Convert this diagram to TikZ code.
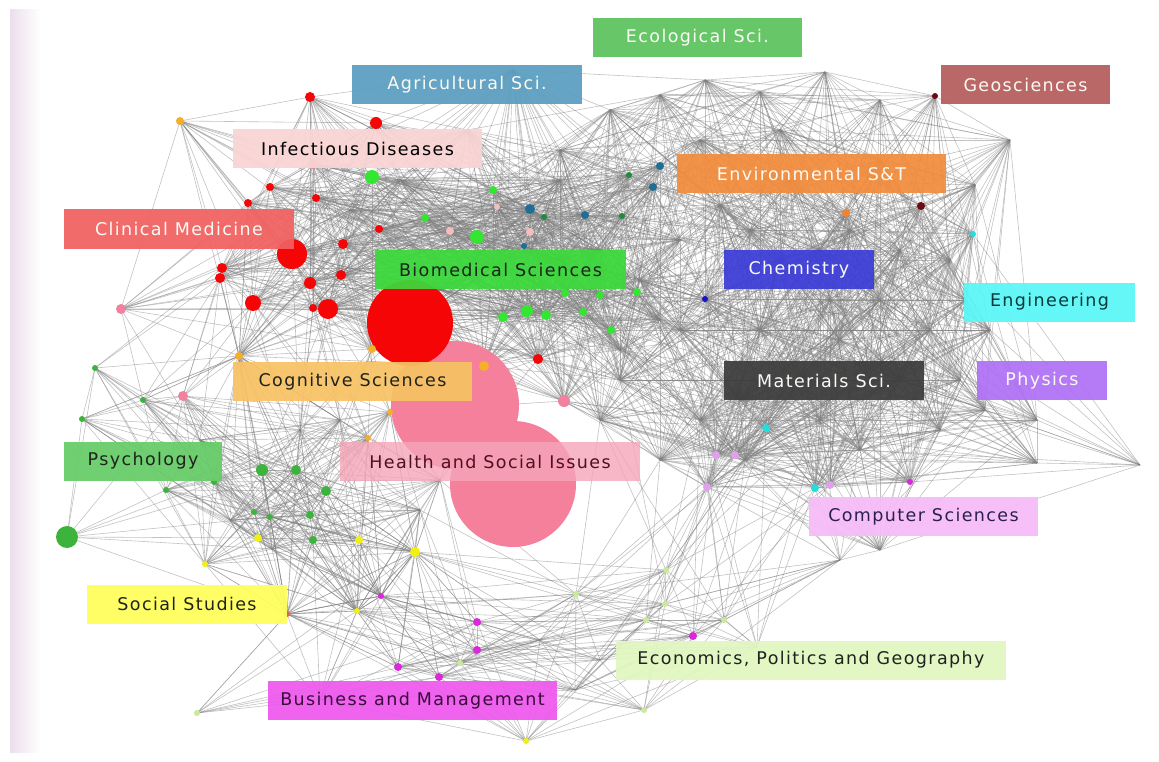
\documentclass[tikz,border=0pt]{standalone}
\usepackage{fontspec}
\setmainfont{DejaVu Sans}
\newfontfamily\lab{DejaVu Sans}[LetterSpace=8]
\definecolor{cRed}{RGB}{245,5,5}
\definecolor{cBgreen}{RGB}{50,230,50}
\definecolor{cPgreen}{RGB}{60,180,60}
\definecolor{cDgreen}{RGB}{30,140,60}
\definecolor{cTeal}{RGB}{30,110,150}
\definecolor{cLpink}{RGB}{245,190,190}
\definecolor{cPinkd}{RGB}{240,130,160}
\definecolor{cBigpink}{RGB}{245,128,155}
\definecolor{cAmber}{RGB}{245,175,40}
\definecolor{cOrng}{RGB}{240,130,50}
\definecolor{cDred}{RGB}{110,10,20}
\definecolor{cCyan}{RGB}{40,220,220}
\definecolor{cBlue}{RGB}{20,20,200}
\definecolor{cMag}{RGB}{220,40,220}
\definecolor{cLviolet}{RGB}{225,160,235}
\definecolor{cYell}{RGB}{240,240,20}
\definecolor{cLgreen}{RGB}{200,235,150}
\definecolor{cOrred}{RGB}{230,100,60}
\definecolor{cLav}{RGB}{236,222,236}
% label boxes
\definecolor{bEco}{RGB}{92,194,92}
\definecolor{bAgri}{RGB}{90,158,192}
\definecolor{bGeo}{RGB}{180,92,92}
\definecolor{bInf}{RGB}{250,212,212}
\definecolor{bEnv}{RGB}{242,140,60}
\definecolor{bClin}{RGB}{242,96,96}
\definecolor{bBio}{RGB}{58,218,58}
\definecolor{bChem}{RGB}{60,60,216}
\definecolor{bEng}{RGB}{90,247,247}
\definecolor{bCog}{RGB}{247,194,100}
\definecolor{bMat}{RGB}{60,60,60}
\definecolor{bPhys}{RGB}{176,112,245}
\definecolor{bPsy}{RGB}{102,204,102}
\definecolor{bHealth}{RGB}{245,165,184}
\definecolor{bComp}{RGB}{247,187,247}
\definecolor{bSoc}{RGB}{255,255,90}
\definecolor{bEcon}{RGB}{224,247,192}
\definecolor{bBus}{RGB}{238,88,238}
\definecolor{tDark}{RGB}{30,35,30}
\definecolor{tHealth}{RGB}{80,16,32}
\definecolor{tComp}{RGB}{42,32,80}
\definecolor{tBus}{RGB}{58,10,58}
\definecolor{tEng}{RGB}{10,58,58}
\definecolor{tLight}{RGB}{250,250,245}

\def\ClA{1/180/121,2/310/97,3/376/123,4/513/70,5/313/164,6/372/177,7/270/187,8/248/203,9/316/198,10/292/254,11/343/244,12/379/229,13/222/268,14/220/278,15/253/303,16/310/283,17/341/275,18/328/309,19/313/308,20/410/323,21/425/218,22/450/231,23/477/237,24/493/190,25/497/207,26/530/209,27/544/217,28/530/232,29/524/246,30/585/215,31/622/216,32/629/175,33/653/187,34/660/166,35/493/268,36/565/293,37/600/295,38/637/292,39/503/317,40/527/311,41/546/315,42/583/312,43/611/330,44/538/359,45/239/356,46/372/349,47/484/366,48/121/309,49/467/130,50/440/290,51/600/250,52/680/240,53/400/180,54/560/180,55/350/210,56/564/401,57/620/350,58/660/320,59/560/260}
\def\ClR{1/560/150,2/610/110,3/660/95,4/705/80,5/760/92,6/825/72,7/880/100,8/935/96,9/1010/140,10/975/185,11/973/234,12/966/300,13/990/330,14/985/410,15/1140/465,16/1037/463,17/1037/420,18/930/330,19/900/250,20/850/230,21/846/213,22/790/180,23/720/205,24/705/299,25/760/330,26/830/300,27/870/380,28/940/430,29/910/482,30/815/488,31/766/428,32/880/550,33/745/460,34/700/420,35/620/380,36/640/280,37/780/260,38/840/340,39/921/206,40/700/140,41/780/130,42/880/160,43/960/380,44/820/420,45/716/455,46/735/455,47/707/487,48/830/485,49/660/460,50/600/420,51/750/230,52/820/250,53/880/300,54/800/380,55/900/380,56/860/450,57/680/330,58/740/400,59/950/260}
\def\ClP{1/95/368,2/143/400,3/82/419,4/183/396,5/67/537,6/166/490,7/214/482,8/262/470,9/296/470,10/326/491,11/254/512,12/270/517,13/310/515,14/258/538,15/313/540,16/359/540,17/415/552,18/205/564,19/357/611,20/287/614,21/381/596,22/239/356,23/368/438,24/390/412,25/440/480,26/340/420,27/300/430,28/200/440,29/420/510,30/272/549,31/230/520}
\def\ClE{1/197/713,2/287/614,3/357/611,4/381/596,5/477/622,6/477/650,7/398/667,8/439/677,9/526/741,10/576/594,11/666/570,12/665/604,13/646/620,14/724/620,15/693/636,16/644/710,17/600/660,18/540/640,19/415/552,20/460/663,21/757/647,22/575/690,23/320/700,24/840/560}

\tikzset{
  lnk/.style={draw=gray, line width=0.6pt, opacity=0.48},
  lbl/.style={inner sep=0pt, minimum height=39, font=\lab\fontsize{17.5}{20}\selectfont, fill opacity=0.93, text opacity=1},
}

\begin{document}
\begin{tikzpicture}[x=1pt,y=-1pt]
\useasboundingbox (0,0) rectangle (1159,762);
\fill[white] (0,0) rectangle (1159,762);
\shade[left color=cLav, right color=white] (10,10) rectangle (40,752);

% coordinates
\foreach \i/\xa/\ya in \ClA {\coordinate (a\i) at (\xa,\ya);}
\foreach \i/\xa/\ya in \ClR {\coordinate (r\i) at (\xa,\ya);}
\foreach \i/\xa/\ya in \ClP {\coordinate (p\i) at (\xa,\ya);}
\foreach \i/\xa/\ya in \ClE {\coordinate (e\i) at (\xa,\ya);}
\coordinate (h1) at (455,405);
\coordinate (h2) at (513,484);

% edges within clusters
\foreach \i/\xa/\ya in \ClA {\foreach \j/\xb/\yb in \ClA {
  \pgfmathtruncatemacro\ok{(\j>\i)&&(veclen((\xb-\xa)/100,(\yb-\ya)/100)<2.8)&&(mod(\i*37+\j*53,10)<8)}
  \ifnum\ok=1 \draw[lnk] (a\i) -- (a\j); \fi}}
\foreach \i/\xa/\ya in \ClR {\foreach \j/\xb/\yb in \ClR {
  \pgfmathtruncatemacro\ok{(\j>\i)&&(veclen((\xb-\xa)/100,(\yb-\ya)/100)<3.2)&&(mod(\i*37+\j*53,10)<8)}
  \ifnum\ok=1 \draw[lnk] (r\i) -- (r\j); \fi}}
\foreach \i/\xa/\ya in \ClP {\foreach \j/\xb/\yb in \ClP {
  \pgfmathtruncatemacro\ok{(\j>\i)&&(veclen((\xb-\xa)/100,(\yb-\ya)/100)<2.4)&&(mod(\i*37+\j*53,10)<8)}
  \ifnum\ok=1 \draw[lnk] (p\i) -- (p\j); \fi}}
\foreach \i/\xa/\ya in \ClE {\foreach \j/\xb/\yb in \ClE {
  \pgfmathtruncatemacro\ok{(\j>\i)&&(veclen((\xb-\xa)/100,(\yb-\ya)/100)<3.0)&&(mod(\i*37+\j*53,10)<8)}
  \ifnum\ok=1 \draw[lnk] (e\i) -- (e\j); \fi}}
% edges across clusters
\foreach \i/\xa/\ya in \ClA {\foreach \j/\xb/\yb in \ClR {
  \pgfmathtruncatemacro\ok{(veclen((\xb-\xa)/100,(\yb-\ya)/100)<2.2)&&(mod(\i*37+\j*53,10)<6)}
  \ifnum\ok=1 \draw[lnk] (a\i) -- (r\j); \fi}}
\foreach \i/\xa/\ya in \ClA {\foreach \j/\xb/\yb in \ClP {
  \pgfmathtruncatemacro\ok{(veclen((\xb-\xa)/100,(\yb-\ya)/100)<1.8)&&(mod(\i*37+\j*53,10)<5)}
  \ifnum\ok=1 \draw[lnk] (a\i) -- (p\j); \fi}}
\foreach \i/\xa/\ya in \ClP {\foreach \j/\xb/\yb in \ClE {
  \pgfmathtruncatemacro\ok{(veclen((\xb-\xa)/100,(\yb-\ya)/100)<1.8)&&(mod(\i*37+\j*53,10)<6)}
  \ifnum\ok=1 \draw[lnk] (p\i) -- (e\j); \fi}}
\foreach \i/\xa/\ya in \ClR {\foreach \j/\xb/\yb in \ClE {
  \pgfmathtruncatemacro\ok{(veclen((\xb-\xa)/100,(\yb-\ya)/100)<2.4)&&(mod(\i*37+\j*53,10)<4)}
  \ifnum\ok=1 \draw[lnk] (r\i) -- (e\j); \fi}}

% dots
\fill[cBigpink] (h1) circle (64);
\fill[cBigpink] (h2) circle (63);
\foreach \n/\c/\r in {a1/cAmber/4,a2/cRed/5,a3/cRed/6,a5/cPinkd/5,a6/cBgreen/7,a7/cRed/4,a8/cRed/4,a9/cRed/4,a10/cRed/15,a11/cRed/5,a12/cRed/4,a13/cRed/5,a14/cRed/5,a15/cRed/8,a16/cRed/6,a17/cRed/5,a18/cRed/10,a19/cRed/4,a20/cRed/43,a21/cBgreen/4,a22/cLpink/4,a23/cBgreen/7,a24/cBgreen/4,a25/cLpink/3,a26/cTeal/5,a27/cDgreen/3,a28/cLpink/4,a29/cTeal/3,a30/cTeal/4,a31/cDgreen/3,a32/cDgreen/3,a33/cTeal/4,a34/cTeal/4,a35/cBgreen/4,a36/cBgreen/4,a37/cBgreen/4,a38/cBgreen/4,a39/cBgreen/5,a40/cBgreen/6,a41/cBgreen/5,a42/cBgreen/4,a43/cBgreen/4,a44/cRed/5,a45/cAmber/4,a46/cAmber/4,a47/cAmber/5,a48/cPinkd/5,a56/cPinkd/6,
  r8/cDred/3,r21/cOrng/4,r39/cDred/4,r11/cCyan/3,r24/cBlue/3,r31/cCyan/4,r30/cCyan/4,r29/cMag/3,r45/cLviolet/4,r46/cLviolet/4,r47/cLviolet/4,r48/cLviolet/4,
  p1/cPgreen/3,p2/cPgreen/3,p3/cPgreen/3,p4/cPinkd/5,p5/cPgreen/11,p6/cPgreen/3,p7/cPgreen/3,p8/cPgreen/6,p9/cPgreen/5,p10/cPgreen/5,p11/cPgreen/3,p12/cPgreen/3,p13/cPgreen/4,p14/cYell/4,p15/cPgreen/4,p16/cYell/4,p17/cYell/5,p18/cYell/3,p19/cYell/3,p20/cOrred/3,p21/cMag/3,p23/cAmber/3,p24/cAmber/3,
  e1/cLgreen/3,e5/cMag/4,e6/cMag/4,e7/cMag/4,e8/cMag/4,e9/cYell/3,e10/cLgreen/3,e11/cLgreen/3,e12/cLgreen/3,e13/cLgreen/3,e14/cLgreen/3,e15/cMag/4,e16/cLgreen/3,e20/cLgreen/3}
  {\fill[\c] (\n) circle (\r);}

% labels
\node[lbl, fill=bEco, text=tLight, minimum width=209] (eco) at (697.5,37.5) {Ecological Sci.};
\node[lbl, fill=bAgri, text=tLight, minimum width=230] (agri) at (467,85) {Agricultural Sci.};
\node[lbl, fill=bGeo, text=tLight, minimum width=169] (geo) at (1025.5,85) {Geosciences};
\node[lbl, fill=bInf, text=black, minimum width=249] (inf) at (357.5,149) {Infectious Diseases};
\node[lbl, fill=bEnv, text=tLight, minimum width=269] (env) at (811.5,173.5) {Environmental S\&T};
\node[lbl, fill=bClin, text=tLight, minimum width=230] (clin) at (179,229) {Clinical Medicine};
\node[lbl, fill=bBio, text=tDark, minimum width=251] (bio) at (500.5,269.5) {Biomedical Sciences};
\node[lbl, fill=bChem, text=tLight, minimum width=150] (chem) at (799,269.5) {Chemistry};
\node[lbl, fill=bEng, text=tEng, minimum width=171] (eng) at (1049.5,302) {Engineering};
\node[lbl, fill=bCog, text=tDark, minimum width=239] (cog) at (352.5,381.5) {Cognitive Sciences};
\node[lbl, fill=bMat, text=tLight, minimum width=200] (mat) at (824,380.5) {Materials Sci.};
\node[lbl, fill=bPhys, text=tLight, minimum width=130] (phys) at (1042,380.5) {Physics};
\node[lbl, fill=bPsy, text=tDark, minimum width=158] (psy) at (143,461) {Psychology};
\node[lbl, fill=bHealth, text=tHealth, minimum width=300, fill opacity=0.8] (health) at (490,461.5) {Health and Social Issues};
\node[lbl, fill=bComp, text=tComp, minimum width=229] (comp) at (923.5,516.5) {Computer Sciences};
\node[lbl, fill=bSoc, text=tDark, minimum width=200] (soc) at (187,604) {Social Studies};
\node[lbl, fill=bEcon, text=tDark, minimum width=390] (econ) at (811,660) {Economics, Politics and Geography};
\node[lbl, fill=bBus, text=tBus, minimum width=289] (bus) at (412.5,700.5) {Business and Management};
\end{tikzpicture}
\end{document}
